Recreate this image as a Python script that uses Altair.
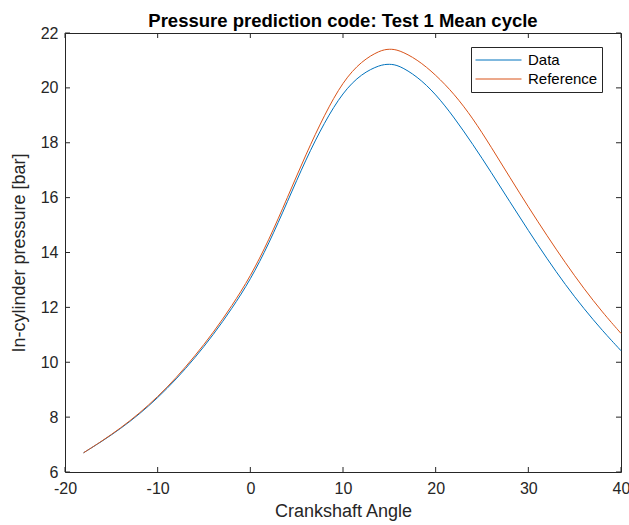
import altair as alt
import pandas as pd

# ---- data ----
crank_angle = [-18, -16, -14, -12, -10, -8, -6, -4, -2, 0, 2, 4, 6, 8, 10, 12, 14, 15, 16,
               18, 20, 22, 24, 26, 28, 30, 32, 34, 36, 38, 40]
data_pressure = [6.70, 7.12, 7.58, 8.10, 8.70, 9.38, 10.15, 11.00, 11.95, 13.00, 14.32, 15.85,
                 17.40, 18.75, 19.85, 20.52, 20.84, 20.87, 20.83,
                 20.42, 19.78, 18.92, 17.95, 16.92, 15.85, 14.80, 13.78, 12.82, 11.95, 11.15, 10.42]
reference_pressure = [6.70, 7.13, 7.60, 8.13, 8.74, 9.43, 10.22, 11.08, 12.05, 13.12, 14.45, 16.00,
                      17.58, 19.02, 20.24, 20.98, 21.37, 21.42, 21.39,
                      21.04, 20.48, 19.78, 18.90, 17.84, 16.74, 15.66, 14.62, 13.62, 12.68, 11.82, 11.05]
series_names = ["Data", "Reference"]
series_colors = ["#0072BD", "#D95319"]
x_ticks = [-20, -10, 0, 10, 20, 30, 40]
y_ticks = [6, 8, 10, 12, 14, 16, 18, 20, 22]

rows = []
for a, d, r in zip(crank_angle, data_pressure, reference_pressure):
    rows.append({"angle": a, "pressure": d, "series": series_names[0]})
    rows.append({"angle": a, "pressure": r, "series": series_names[1]})
df = pd.DataFrame(rows)
xt = pd.DataFrame({"angle": x_ticks})
yt = pd.DataFrame({"pressure": y_ticks})

W, H = 556, 439
FONT = "Liberation Sans"
INK = "#262626"

x_scale = alt.Scale(domain=[-20, 40], nice=False, zero=False)
y_scale = alt.Scale(domain=[6, 22], nice=False, zero=False)
x_axis = alt.Axis(title="Crankshaft Angle", values=x_ticks, tickSize=0, domain=False,
                  grid=False, labelPadding=8, labelExpr="'' + datum.value", titlePadding=6,
                  labelFlush=False, labelOverlap=False,
                  labelFont=FONT, labelFontSize=16, labelColor=INK, titleFont=FONT,
                  titleFontSize=18, titleColor=INK, titleFontWeight="normal")
y_axis = alt.Axis(title="In-cylinder pressure [bar]", values=y_ticks, tickSize=0,
                  domain=False, grid=False, labelPadding=7,
                  labelExpr="'' + datum.value", titlePadding=12,
                  labelFlush=False, labelOverlap=False,
                  labelFont=FONT, labelFontSize=16, labelColor=INK, titleFont=FONT,
                  titleFontSize=18, titleColor=INK, titleFontWeight="normal")

lines = alt.Chart(df).mark_line(strokeWidth=1, interpolate="basis").encode(
    x=alt.X("angle:Q", scale=x_scale, axis=x_axis),
    y=alt.Y("pressure:Q", scale=y_scale, axis=y_axis),
    color=alt.Color("series:N",
                    scale=alt.Scale(domain=series_names, range=series_colors),
                    legend=alt.Legend(title=None, orient="none", legendX=406, legendY=14,
                                      symbolType="stroke", symbolSize=2116,
                                      symbolStrokeWidth=1, clipHeight=18, rowPadding=1,
                                      padding=4, labelFontSize=15, labelFont=FONT,
                                      labelColor="#000000", labelOffset=6,
                                      strokeColor=INK, fillColor="white")),
)

tick_b = alt.Chart(xt).mark_rule(color=INK, strokeWidth=1).encode(
    x=alt.X("angle:Q", scale=x_scale, axis=x_axis), y=alt.value(H), y2=alt.value(H - 5))
tick_t = alt.Chart(xt).mark_rule(color=INK, strokeWidth=1).encode(
    x=alt.X("angle:Q", scale=x_scale, axis=x_axis), y=alt.value(0), y2=alt.value(5))
tick_l = alt.Chart(yt).mark_rule(color=INK, strokeWidth=1).encode(
    y=alt.Y("pressure:Q", scale=y_scale, axis=y_axis), x=alt.value(0), x2=alt.value(5))
tick_r = alt.Chart(yt).mark_rule(color=INK, strokeWidth=1).encode(
    y=alt.Y("pressure:Q", scale=y_scale, axis=y_axis), x=alt.value(W), x2=alt.value(W - 5))

chart = alt.layer(lines, tick_b, tick_t, tick_l, tick_r).properties(
    width=W, height=H,
    background="white",
    autosize=alt.AutoSizeParams(type="none"),
    padding={"left": 65, "top": 33, "right": 8, "bottom": 53},
    title=alt.TitleParams("Pressure prediction code: Test 1 Mean cycle", fontSize=18.5,
                          font=FONT, fontWeight="bold", color="#000000", anchor="middle",
                          baseline="alphabetic", offset=-20.5),
).configure_view(stroke=INK, strokeWidth=1)

chart.save("out.html", embed_options={"renderer": "svg", "actions": False})
